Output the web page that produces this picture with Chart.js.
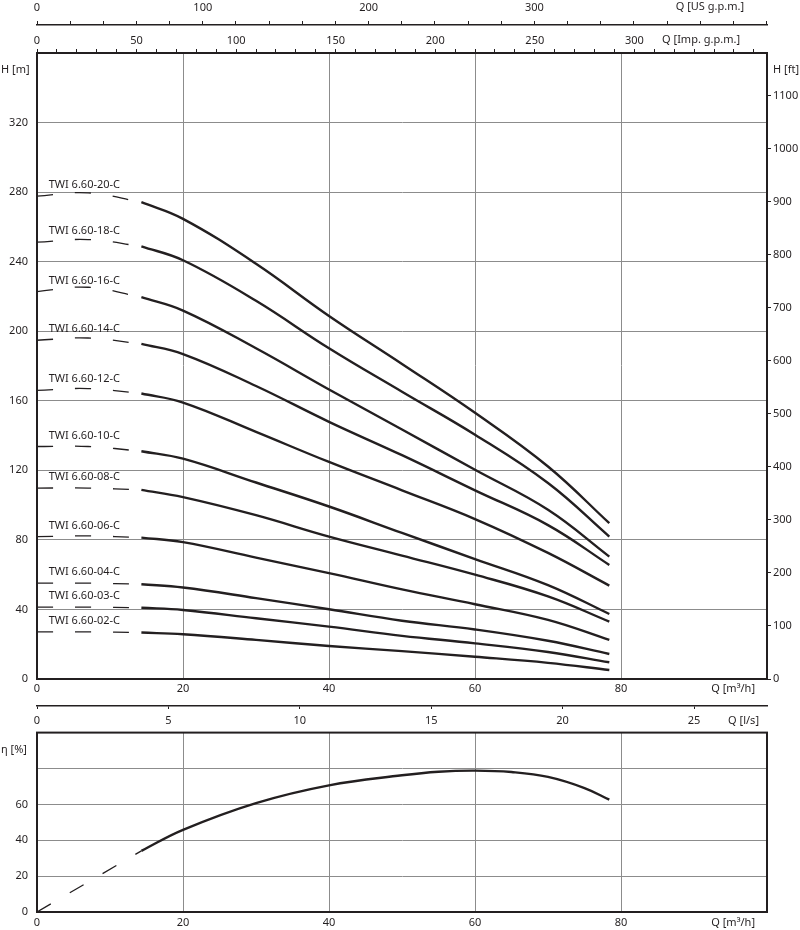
<!DOCTYPE html>
<html><head><meta charset="utf-8">
<script src="https://cdn.jsdelivr.net/npm/chart.js@4.4.0/dist/chart.umd.min.js"></script>
<style>
html,body{margin:0;padding:0;background:#fff;}
#wrap{position:relative;width:800px;height:930px;}
canvas{position:absolute;left:0;}
#c1{top:0;}
#c2{top:726px;}
</style></head><body>
<div id="wrap"><canvas id="c1" width="800" height="730"></canvas><canvas id="c2" width="800" height="204"></canvas></div>
<script>
// ---------- DATA ----------
const models = ['TWI 6.60-20-C','TWI 6.60-18-C','TWI 6.60-16-C','TWI 6.60-14-C','TWI 6.60-12-C',
                'TWI 6.60-10-C','TWI 6.60-08-C','TWI 6.60-06-C','TWI 6.60-04-C','TWI 6.60-03-C','TWI 6.60-02-C'];
const qDashed = [0, 7, 14.3];                              // Q [m3/h], dashed start of curves
const qSolid  = [14.3, 20, 30, 40, 50, 60, 70, 78.4];      // Q [m3/h], working range

const h20Dashed = [277.7, 279.6, 274.2];
const h20 = [274.2, 264.6, 238.8, 208.8, 181.2, 153.1, 122.2, 89.6];
const h18Dashed = [251.2, 252.7, 248.8];
const h18 = [248.8, 240.8, 217.5, 190.2, 165.2, 140.5, 112.7, 81.9];
const h16Dashed = [222.8, 225.3, 219.6];
const h16 = [219.6, 211.9, 190.2, 166.5, 143.5, 120.3, 97.3, 70.4];
const h14Dashed = [194.8, 196.1, 192.7];
const h14 = [192.7, 186.9, 168.5, 147.9, 128.7, 108.5, 88.5, 65.6];
const h12Dashed = [166.0, 167.0, 164.2];
const h12 = [164.2, 159.0, 142.1, 124.8, 108.5, 92.0, 72.5, 53.7];
const h10Dashed = [133.7, 133.7, 131.0];
const h10 = [131.0, 126.7, 113.0, 99.2, 84.0, 69.0, 54.0, 37.4];
const h08Dashed = [109.8, 109.8, 108.8];
const h08 = [108.8, 104.6, 94.2, 81.9, 71.0, 60.0, 47.5, 33.0];
const h06Dashed = [81.9, 82.3, 81.3];
const h06 = [81.3, 78.7, 69.8, 60.9, 51.5, 43.0, 34.0, 22.5];
const h04Dashed = [55.1, 55.1, 54.5];
const h04 = [54.5, 52.6, 46.5, 40.1, 33.5, 28.5, 22.0, 14.4];
const h03Dashed = [41.3, 41.3, 41.0];
const h03 = [41.0, 39.7, 34.9, 30.1, 24.8, 20.5, 15.5, 9.6];
const h02Dashed = [27.1, 27.1, 26.7];
const h02 = [26.7, 25.7, 22.5, 19.0, 16.0, 12.8, 9.3, 5.2];

const qEffDashed = [0, 14.3];
const effDashed  = [0, 34.1];
const qEff = [14.3, 20, 30, 40, 50, 55, 60, 65, 70, 75, 78.4];
const eff  = [34.1, 45.8, 60.7, 70.6, 76.2, 78.2, 78.8, 78.0, 75.3, 69.1, 62.6];

// tick labels
const qLabels   = [0, 20, 40, 60, 80];
const impLabels = [0, 50, 100, 150, 200, 250, 300];
const usLabels  = [0, 100, 200, 300];
const lsLabels  = [0, 5, 10, 15, 20, 25];
const hmLabels  = [0, 40, 80, 120, 160, 200, 240, 280, 320];
const hftLabels = [0, 100, 200, 300, 400, 500, 600, 700, 800, 900, 1000, 1100];
const effLabels = [0, 20, 40, 60];

const headDashed = [h20Dashed,h18Dashed,h16Dashed,h14Dashed,h12Dashed,h10Dashed,h08Dashed,h06Dashed,h04Dashed,h03Dashed,h02Dashed];
const headSolid  = [h20,h18,h16,h14,h12,h10,h08,h06,h04,h03,h02];

// ---------- STYLE / HELPERS ----------
const FONT = "'Noto Sans', 'DejaVu Sans', sans-serif";
const INK = '#231f20';
const GRID = '#8c8c8c';
const tickFont = {family: FONT, size: 11};
const M3H_TO_IMP = 3.66615, M3H_TO_US = 4.40287, M3H_TO_LS = 1/3.6, M_TO_FT = 1/0.3048;

function labelCb(list){ return v => list.includes(Math.round(v*1000)/1000) ? String(Math.round(v)) : ''; }
function stepTicks(step){
  return s => { const t = []; for (let i = 0; i*step <= s.max + 1e-9; i++) t.push({value: i*step}); s.ticks = t; };
}
function pts(xs, ys){ return xs.map((x,i)=>({x:x, y:ys[i]})); }

const framePlugin = {
  id:'frame',
  afterDraw(chart){
    const a = chart.chartArea, c = chart.ctx;
    c.save(); c.strokeStyle = INK; c.lineWidth = 2;
    c.strokeRect(a.left, a.top, a.right-a.left, a.bottom-a.top);
    c.restore();
  }
};
function textPlugin(items){
  return { id:'texts', afterDraw(chart){
    const c = chart.ctx; c.save(); c.fillStyle = INK; c.font = '11px ' + FONT; c.textBaseline = 'middle';
    items.forEach(t => { c.textAlign = t.align; c.fillText(t.text, t.x, t.y); });
    c.restore();
  }};
}
const curveLabelPlugin = {
  id:'curveLabels',
  afterDatasetsDraw(chart){
    const ys = chart.scales.y, xs = chart.scales.x, c = chart.ctx;
    c.save(); c.fillStyle = INK; c.font = '11px ' + FONT; c.textBaseline = 'middle'; c.textAlign = 'left';
    models.forEach((m,i) => {
      c.fillText(m, xs.getPixelForValue(1.6), ys.getPixelForValue(headDashed[i][0]) - 11);
    });
    c.restore();
  }
};

// ---------- TOP CHART: H-Q ----------
const datasets1 = [];
models.forEach((m,i) => {
  datasets1.push({label: m + ' (dashed)', data: pts(qDashed, headDashed[i]), borderColor: INK, borderWidth: 1.3,
                  borderDash: [16,22], pointRadius: 0, tension: 0.4, fill: false, xAxisID:'x', yAxisID:'y'});
  datasets1.push({label: m, data: pts(qSolid, headSolid[i]), borderColor: INK, borderWidth: 2.4,
                  pointRadius: 0, tension: 0.4, fill: false, xAxisID:'x', yAxisID:'y'});
});

new Chart(document.getElementById('c1'), {
  type: 'line',
  data: { datasets: datasets1 },
  options: {
    responsive: false, animation: false,
    layout: { padding: 0 },
    plugins: { legend: {display:false}, tooltip: {enabled:false} },
    scales: {
      x: { type:'linear', axis:'x', position:'bottom', weight:0, min:0, max:100,
           ticks:{stepSize:20, callback: labelCb(qLabels), font:tickFont, color:INK, padding:3, maxRotation:0, autoSkip:false},
           grid:{color:GRID, lineWidth:1, drawTicks:false},
           border:{color:INK, width:2},
           afterFit: s => { s.height = 27; } },
      ls: { type:'linear', axis:'x', position:'bottom', weight:1, min:0, max:100*M3H_TO_LS,
           afterBuildTicks: stepTicks(5),
           ticks:{callback: labelCb(lsLabels), font:tickFont, color:INK, padding:5, maxRotation:0, autoSkip:false},
           grid:{drawOnChartArea:false, tickLength:3, color:INK, tickColor:INK, lineWidth:1},
           border:{color:INK, width:1.5},
           afterFit: s => { s.height = 24; } },
      imp: { type:'linear', axis:'x', position:'top', weight:1, min:0, max:100*M3H_TO_IMP,
           afterBuildTicks: stepTicks(10),
           ticks:{callback: labelCb(impLabels), font:tickFont, color:INK, padding:2, maxRotation:0, autoSkip:false},
           grid:{drawOnChartArea:false, tickLength:4, color:INK, tickColor:INK, lineWidth:1},
           border:{color:INK, width:2},
           afterFit: s => { s.height = 28; } },
      us: { type:'linear', axis:'x', position:'top', weight:2, min:0, max:100*M3H_TO_US,
           afterBuildTicks: stepTicks(20),
           ticks:{callback: labelCb(usLabels), font:tickFont, color:INK, padding:7, maxRotation:0, autoSkip:false},
           grid:{drawOnChartArea:false, tickLength:4, color:INK, tickColor:INK, lineWidth:1},
           border:{color:INK, width:1.5},
           afterFit: s => { s.height = 25; } },
      y: { type:'linear', axis:'y', position:'left', min:0, max:360,
           ticks:{stepSize:40, callback: labelCb(hmLabels), font:tickFont, color:INK, padding:9, autoSkip:false},
           grid:{color:GRID, lineWidth:1, drawTicks:false},
           border:{color:INK, width:2},
           afterFit: s => { s.width = 37; } },
      yft: { type:'linear', axis:'y', position:'right', min:0, max:360*M_TO_FT,
           afterBuildTicks: stepTicks(100),
           ticks:{callback: labelCb(hftLabels), font:tickFont, color:INK, padding:2, autoSkip:false},
           grid:{drawOnChartArea:false, tickLength:4, color:INK, tickColor:INK, lineWidth:1},
           border:{color:INK, width:2},
           afterFit: s => { s.width = 33; } }
    }
  },
  plugins: [framePlugin, curveLabelPlugin, textPlugin([
    {text:'Q [US g.p.m.]', x:744, y:7, align:'right'},
    {text:'Q [Imp. g.p.m.]', x:740, y:40, align:'right'},
    {text:'H [m]', x:1, y:70, align:'left'},
    {text:'H [ft]', x:773, y:70, align:'left'},
    {text:'Q [m³/h]', x:755, y:689, align:'right'},
    {text:'Q [l/s]', x:759, y:721, align:'right'}
  ])]
});

// ---------- BOTTOM CHART: efficiency ----------
new Chart(document.getElementById('c2'), {
  type: 'line',
  data: { datasets: [
    {label:'η dashed', data: pts(qEffDashed, effDashed), borderColor: INK, borderWidth: 1.3, borderDash:[16,22],
     pointRadius:0, fill:false},
    {label:'η', data: pts(qEff, eff), borderColor: INK, borderWidth: 2.4, pointRadius:0,
     tension: 0.4, fill:false}
  ]},
  options: {
    responsive:false, animation:false,
    layout: { padding: {top:0, right:33, left:0, bottom:0} },
    plugins: { legend:{display:false}, tooltip:{enabled:false} },
    scales: {
      x: { type:'linear', position:'bottom', min:0, max:100,
           ticks:{stepSize:20, callback: labelCb(qLabels), font:tickFont, color:INK, padding:4, maxRotation:0, autoSkip:false},
           grid:{color:GRID, lineWidth:1, drawTicks:false},
           border:{color:INK, width:2},
           afterFit: s => { s.height = 18; } },
      y: { type:'linear', position:'left', min:0, max:100,
           ticks:{stepSize:20, callback: labelCb(effLabels), font:tickFont, color:INK, padding:0, autoSkip:false},
           grid:{color:GRID, lineWidth:1, drawTicks:true, tickLength:9, tickColor:'rgba(0,0,0,0)'},
           border:{color:INK, width:2},
           afterFit: s => { s.width = 37; } }
    }
  },
  plugins: [framePlugin, textPlugin([
    {text:'η [%]', x:1, y:24, align:'left'},
    {text:'Q [m³/h]', x:755, y:197, align:'right'}
  ])]
});
</script>
</body></html>
